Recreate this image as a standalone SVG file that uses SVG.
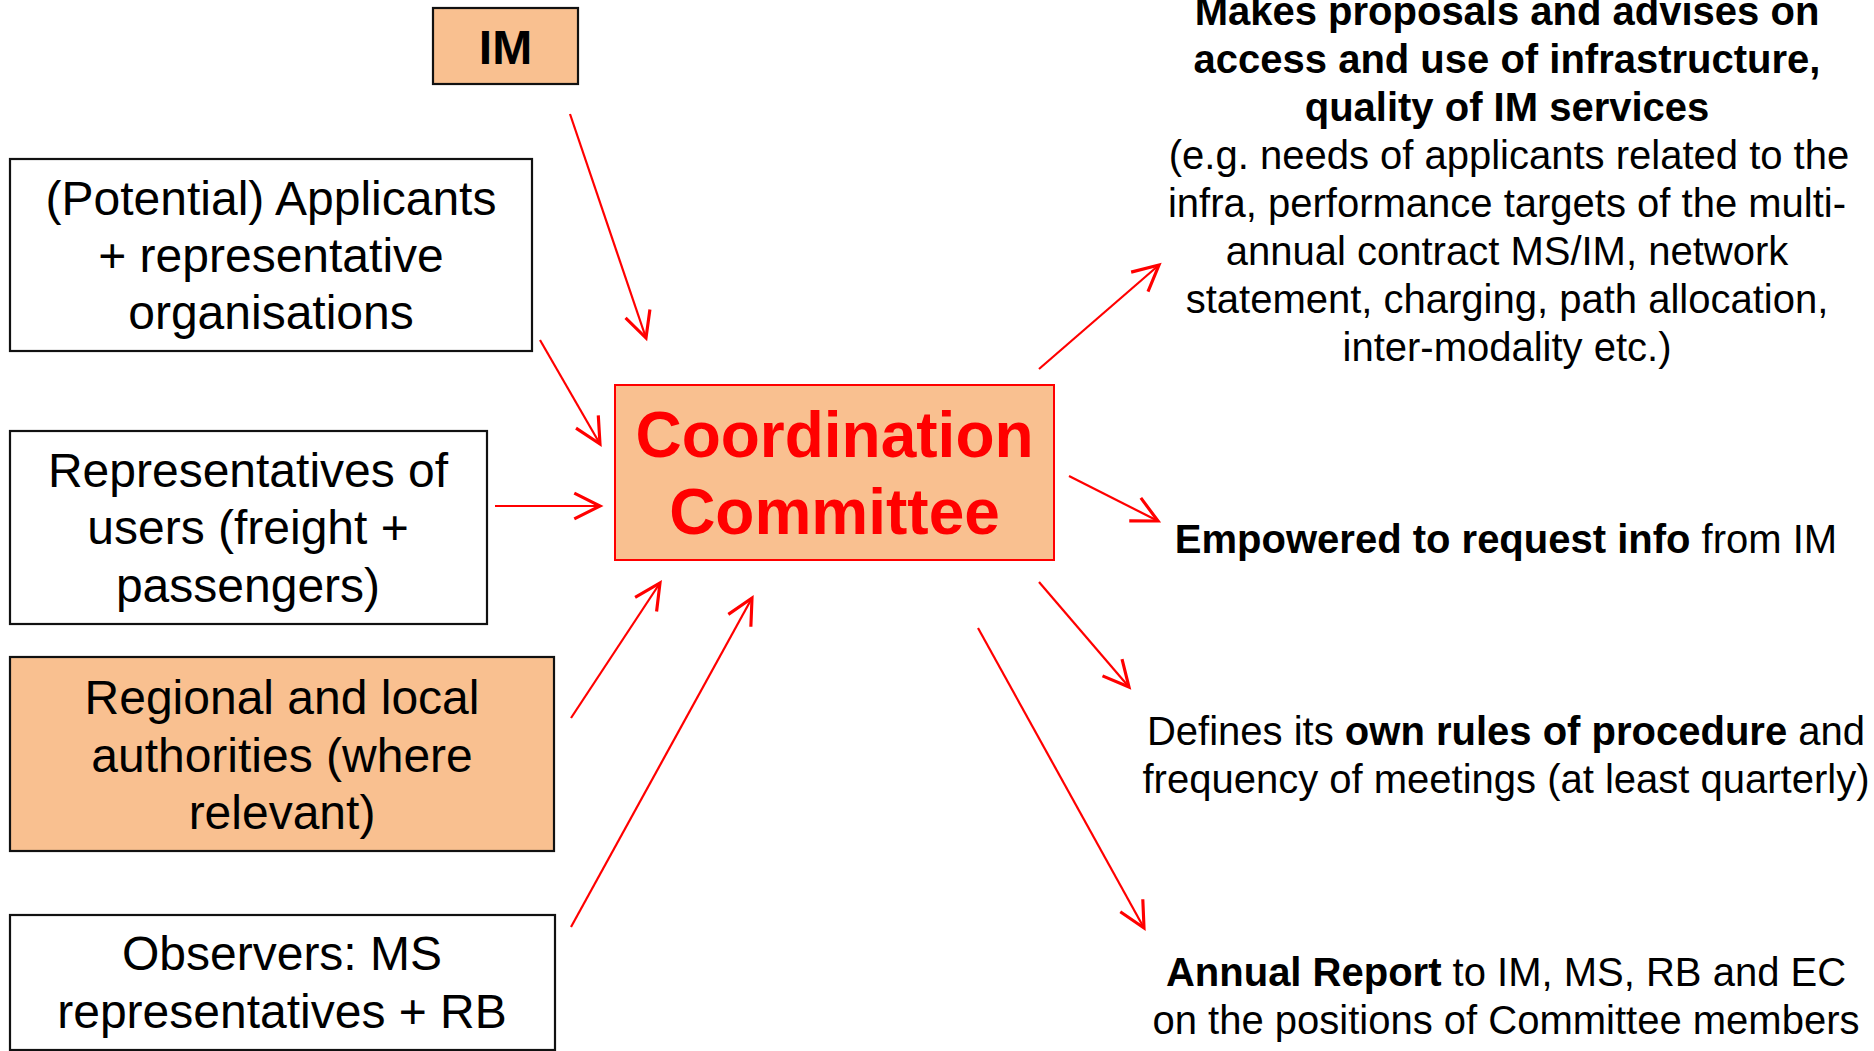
<svg xmlns="http://www.w3.org/2000/svg" width="1874" height="1051" viewBox="0 0 1874 1051">
<defs>
<style>
.box{stroke:#111;stroke-width:2.2}
.peach{fill:#F9C090}
.white{fill:#fff}
.t{font-family:"Liberation Sans",Arial,sans-serif;fill:#000;text-anchor:middle}
.l{font-size:48px}
.r{font-size:40px}
.b{font-weight:bold}
.conn line{stroke:#FF0000;stroke-width:2.2;fill:none;marker-end:url(#ah)}
</style>
<marker id="ah" markerUnits="userSpaceOnUse" markerWidth="40" markerHeight="40" viewBox="-22 -14 26 28" refX="0" refY="0" orient="auto">
<path d="M-18,-9 L0,0 L-18,9" fill="none" stroke="#FF0000" stroke-width="2.2"/>
</marker>
</defs>
<rect width="1874" height="1051" fill="#fff"/>

<g id="im">
<rect class="box peach" x="433" y="8" width="145" height="76"/>
<text class="t b l" x="505.5" y="64">IM</text>
</g>

<g id="applicants">
<rect class="box white" x="10" y="159" width="522" height="192"/>
<text class="t l" x="271" y="215">(Potential) Applicants</text>
<text class="t l" x="271" y="272">+ representative</text>
<text class="t l" x="271" y="329">organisations</text>
</g>

<g id="users">
<rect class="box white" x="10" y="431" width="477" height="193"/>
<text class="t l" x="248" y="487">Representatives of</text>
<text class="t l" x="248" y="544">users (freight +</text>
<text class="t l" x="248" y="602">passengers)</text>
</g>

<g id="regional">
<rect class="box peach" x="10" y="657" width="544" height="194"/>
<text class="t l" x="282" y="714">Regional and local</text>
<text class="t l" x="282" y="772">authorities (where</text>
<text class="t l" x="282" y="829">relevant)</text>
</g>

<g id="observers">
<rect class="box white" x="10" y="915" width="545" height="135"/>
<text class="t l" x="282" y="970">Observers: MS</text>
<text class="t l" x="282" y="1028">representatives + RB</text>
</g>

<g id="committee">
<rect x="615" y="385" width="439" height="175" fill="#F9C090" stroke="#FF0000" stroke-width="2"/>
<text class="t b" x="834.5" y="457" font-size="64" style="fill:#FF0000">Coordination</text>
<text class="t b" x="834.5" y="534" font-size="64" style="fill:#FF0000">Committee</text>
</g>

<g id="proposals">
<text class="t r b" x="1507" y="25">Makes proposals and advises on</text>
<text class="t r b" x="1507" y="73">access and use of infrastructure,</text>
<text class="t r b" x="1507" y="121">quality of IM services</text>
<text class="t r" x="1509" y="169">(e.g. needs of applicants related to the</text>
<text class="t r" x="1507" y="217">infra, performance targets of the multi-</text>
<text class="t r" x="1507" y="265">annual contract MS/IM, network</text>
<text class="t r" x="1507" y="313">statement, charging, path allocation,</text>
<text class="t r" x="1507" y="361">inter-modality etc.)</text>
</g>

<g id="empowered">
<text class="t r" x="1506" y="553"><tspan font-weight="bold">Empowered to request info</tspan> from IM</text>
</g>

<g id="rules">
<text class="t r" x="1506" y="745">Defines its <tspan font-weight="bold">own rules of procedure</tspan> and</text>
<text class="t r" x="1506" y="793">frequency of meetings (at least quarterly)</text>
</g>

<g id="report">
<text class="t r" x="1506" y="986"><tspan font-weight="bold">Annual Report</tspan> to IM, MS, RB and EC</text>
<text class="t r" x="1506" y="1034">on the positions of Committee members</text>
</g>

<g id="connectors" class="conn">
<line x1="570" y1="114" x2="646" y2="338"/>
<line x1="540" y1="340" x2="600" y2="444"/>
<line x1="495" y1="506" x2="600" y2="506"/>
<line x1="571" y1="718" x2="660" y2="583"/>
<line x1="571" y1="927" x2="752" y2="598"/>
<line x1="1039" y1="369" x2="1159" y2="265"/>
<line x1="1069" y1="476" x2="1158" y2="521"/>
<line x1="1039" y1="582" x2="1129" y2="687"/>
<line x1="978" y1="628" x2="1144" y2="928"/>
</g>
</svg>
